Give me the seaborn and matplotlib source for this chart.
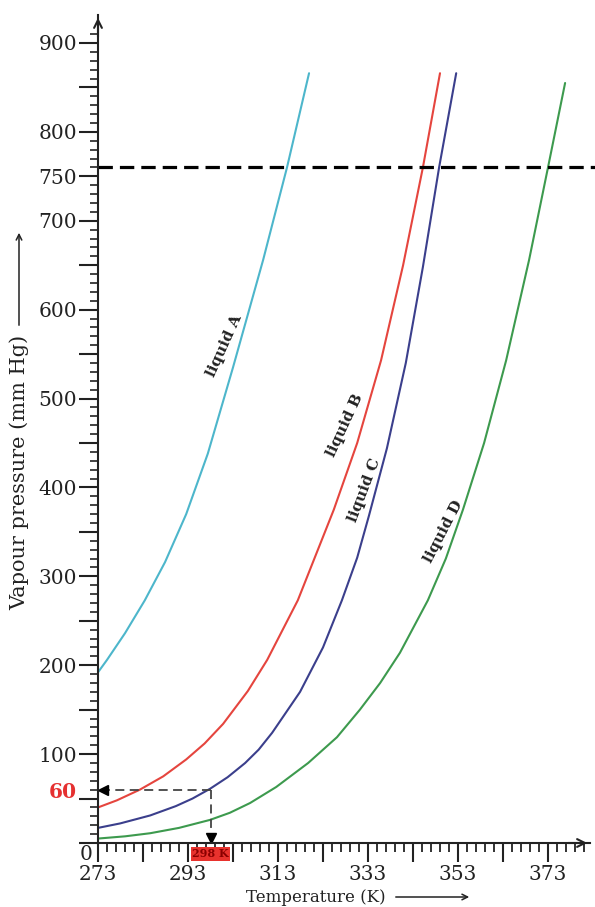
import numpy as np
import pandas as pd
import matplotlib.pyplot as plt
import seaborn as sns

# valores (temperatura em K, pressao em mm Hg)
temp_a = [273, 275, 279, 283.4, 287.9, 292.6, 297.4, 303, 309.7, 315, 319.9]
pres_a = [192, 206, 236, 273, 316, 370, 438, 535, 656, 760, 866]

temp_b = [273, 277.2, 282.3, 287.5, 292.6, 296.7, 300.8, 306.3, 310.6, 317.4, 325.4, 330.6,
          335.9, 340.8, 345.2, 349]
pres_b = [40, 48, 60, 75, 94, 112, 134, 171, 206, 273, 375, 450, 543, 650, 760, 866]

temp_c = [273, 277.9, 284.6, 290.3, 294, 297.9, 301.8, 305.7, 308.7, 311.7, 317.9, 323, 327.2,
          330.6, 333.2, 337.2, 341.4, 345.2, 348.8, 352.6]
pres_c = [17, 22, 31, 41.5, 50, 61, 74, 90, 105, 124, 170, 220, 273, 321, 368, 444, 540, 648, 760, 866]

temp_d = [273, 279, 284.6, 291, 297.9, 302.3, 306.8, 312.6, 319.7, 326.1, 331.2, 335.7, 340.1,
          346.3, 350.3, 354.1, 358.8, 363.7, 368.8, 373, 376.8]
pres_d = [5, 7.5, 11, 17, 26, 34, 45, 63, 90, 119, 150, 180, 214, 273, 320, 375, 450, 543, 656, 760, 855]

liquidos = ['liquid A', 'liquid B', 'liquid C', 'liquid D']
cores = {'liquid A': '#4db6cb', 'liquid B': '#e5453e', 'liquid C': '#3b3f8c', 'liquid D': '#3d9a4e'}

pressao_atm = 760
t_ref, p_ref = 298, 60

y_labels = {60: '60', 100: '100', 200: '200', 300: '300', 400: '400', 500: '500',
            600: '600', 700: '700', 750: '750', 800: '800', 900: '900'}
x_labels = [273, 293, 313, 333, 353, 373]

# montar o DataFrame
df = pd.concat([
    pd.DataFrame({'T': t, 'P': p, 'liquido': nome})
    for nome, t, p in zip(liquidos, [temp_a, temp_b, temp_c, temp_d], [pres_a, pres_b, pres_c, pres_d])
])

sns.set_style('white')
plt.rcParams['font.family'] = ['DejaVu Serif', 'DejaVu Sans']

fig = plt.figure(figsize=(5.95, 9.07), dpi=100)
ax = fig.add_axes([98 / 595, 64 / 907, 492 / 595, 828 / 907])

sns.lineplot(data=df, x='T', y='P', hue='liquido', palette=cores, legend=False,
             linewidth=1.5, ax=ax, sort=True)

ax.set_xlim(273, 273 + 492 / 4.5)
ax.set_ylim(0, 828 / 0.8889)

# linha de 1 atm
ax.axhline(pressao_atm, color='black', lw=2.3, dashes=(4.5, 2.2), xmin=0, xmax=1.01, clip_on=False)

# setas tracejadas de 298 K / 60 mm Hg
ax.plot([t_ref, 273.8], [p_ref, p_ref], color='#444444', lw=1.3, dashes=(5, 3))
ax.plot([t_ref, t_ref], [p_ref, 6], color='#444444', lw=1.3, dashes=(5, 3))
ax.plot([274.2], [p_ref], marker='<', color='black', ms=7, clip_on=False)
ax.plot([t_ref], [6], marker='v', color='black', ms=7, clip_on=False)

# rotulos das curvas
rotulos = [(301, 559, 65.5), (327.9, 470, 65), (332.3, 397, 69), (349.7, 350, 62.5)]
for nome, (tx, py, ang) in zip(liquidos, rotulos):
    ax.text(tx, py, nome, rotation=ang, ha='center', va='center', fontsize=11,
            fontweight='bold', color='#222222', rotation_mode='anchor')

# eixos
sns.despine(ax=ax)
for lado in ['left', 'bottom']:
    ax.spines[lado].set_linewidth(1.5)
    ax.spines[lado].set_color('#222222')
ax.annotate('', xy=(0, 1.0), xytext=(0, 0.97), xycoords='axes fraction',
            arrowprops=dict(arrowstyle='->', lw=1.5, color='#222222', mutation_scale=14))
ax.annotate('', xy=(1.0, 0), xytext=(0.95, 0), xycoords='axes fraction',
            arrowprops=dict(arrowstyle='->', lw=1.5, color='#222222', mutation_scale=14))

# ticks do eixo x: maiores a cada 10 K, rotulos a cada 20 K
xt = np.arange(273, 382, 10)
ax.set_xticks(xt)
ax.set_xticklabels([str(v) if v in x_labels else '' for v in xt])
ax.tick_params(axis='x', which='major', bottom=True, length=14, width=1.5, direction='out',
               labelsize=14.5, pad=2, colors='#222222')
# ticks menores a cada 2 K, desenhados abaixo do eixo
x_menores = [v for v in np.arange(275, 382, 2) if (v - 273) % 10 != 0]
ax.vlines(x_menores, -9 / 828, 0, transform=ax.get_xaxis_transform(), colors='#222222',
          lw=1.3, clip_on=False)

# ticks do eixo y
yt = sorted(set(list(range(0, 911, 10)) + [p_ref]))
ax.set_yticks(yt)
ax.set_yticklabels([y_labels.get(v, '') for v in yt])
ax.tick_params(axis='y', which='major', left=True, length=14, width=1.5, direction='out',
               labelsize=14.5, pad=1, colors='#222222')
for tick, v in zip(ax.yaxis.get_major_ticks(), yt):
    if v % 50 != 0:
        tick.tick1line.set_markersize(5.5)
        tick.tick1line.set_markeredgewidth(1.2)
    if v == p_ref:
        tick.label1.set_color('#e53030')
        tick.label1.set_fontweight('bold')

ax.text(-12 / 492, -12 / 828, '0', transform=ax.transAxes, ha='center', va='center',
        fontsize=14.5, color='#222222')
ax.text(t_ref, -12, '298 K', ha='center', va='center', fontsize=8, fontweight='bold', color='#8a0000',
        bbox=dict(boxstyle='square,pad=0.15', fc='#e8322d', ec='none'), zorder=5)

ax.set_xlabel('')
ax.set_ylabel('')

# titulos dos eixos com setas
fig.text(316 / 595, 1 - 897 / 907, 'Temperature (K)', ha='center', va='center', fontsize=12, color='#222222')
ax.annotate('', xy=(472 / 595, 1 - 897 / 907), xytext=(393 / 595, 1 - 897 / 907),
            xycoords='figure fraction', arrowprops=dict(arrowstyle='->', lw=1.1, color='#222222'))

fig.text(19 / 595, 1 - 472 / 907, 'Vapour pressure (mm Hg)', rotation=90, ha='center', va='center',
         fontsize=15, color='#222222')
ax.annotate('', xy=(19 / 595, 1 - 230 / 907), xytext=(19 / 595, 1 - 328 / 907),
            xycoords='figure fraction', arrowprops=dict(arrowstyle='->', lw=1.1, color='#222222'))

plt.savefig('out.png', dpi=100)
